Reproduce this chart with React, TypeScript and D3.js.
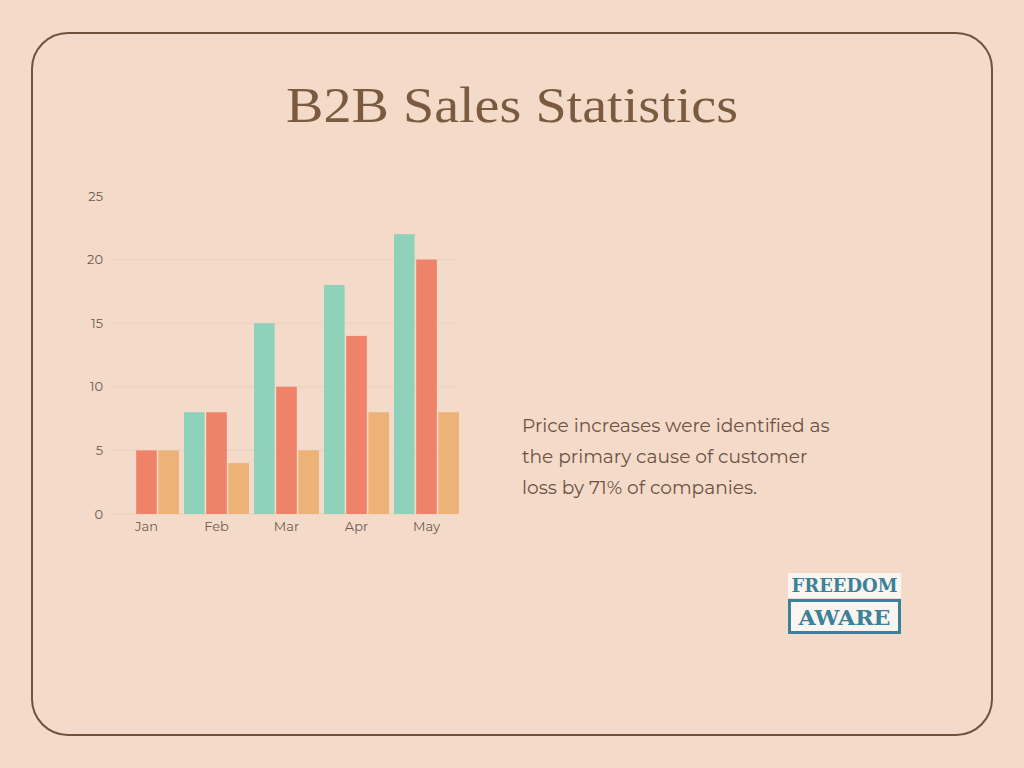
import React from "react";
import * as d3 from "d3";

const months = ["Jan", "Feb", "Mar", "Apr", "May"];
const seriesNames = ["Series 1", "Series 2", "Series 3"];
const series1 = [0, 8, 15, 18, 22];
const series2 = [5, 8, 10, 14, 20];
const series3 = [5, 4, 5, 8, 8];
const yTicks = [0, 5, 10, 15, 20, 25];
const colors = ["#8fd2bb", "#ee8369", "#ecb278"];
const noteLines = [
  "Price increases were identified as",
  "the primary cause of customer",
  "loss by 71% of companies.",
];

export default function App() {
  const W = 1024, H = 768;
  const values = [series1, series2, series3];
  const x0 = d3.scaleBand<string>().domain(months).range([111.5, 461.5]).paddingInner(0.0714).paddingOuter(0.0357);
  const x1 = d3.scaleBand<string>().domain(seriesNames).range([0, x0.bandwidth()]).paddingInner(0.07);
  const y = d3.scaleLinear().domain([0, 25]).range([514, 196]);
  const tickFont = "Montserrat, 'Open Sans', Lato, sans-serif";

  return (
    <svg width={W} height={H} style={{ position: "absolute", left: 0, top: 0, display: "block" }}>
      <rect x={0} y={0} width={W} height={H} fill="#f3dac9" />
      <rect x={32} y={33} width={960} height={702} rx={36} ry={36} fill="none" stroke="#70523d" strokeWidth={2} />
      <text x={512} y={122} textAnchor="middle" fontFamily="'Liberation Serif', serif" fontSize={50} fill="#7a5b40" textLength={452} lengthAdjust="spacingAndGlyphs">
        B2B Sales Statistics
      </text>

      {yTicks.map((t) => (
        <g key={t}>
          {t > 0 && t < 25 && (
            <line x1={110} x2={458} y1={y(t)} y2={y(t)} stroke="#ecd0bd" strokeWidth={1} />
          )}
          <text x={103} y={y(t) + 4.5} textAnchor="end" fontFamily={tickFont} fontSize={13} fill="#6e5a50">
            {t}
          </text>
        </g>
      ))}
      <line x1={110} x2={458} y1={y(0)} y2={y(0)} stroke="#ecd0bd" strokeWidth={1} />

      {months.map((m, i) => (
        <g key={m}>
          {values.map((vals, s) =>
            vals[i] > 0 ? (
              <rect
                key={s}
                x={(x0(m) as number) + (x1(seriesNames[s]) as number)}
                y={y(vals[i])}
                width={x1.bandwidth()}
                height={y(0) - y(vals[i])}
                fill={colors[s]}
              />
            ) : null
          )}
          <text x={(x0(m) as number) + x0.bandwidth() / 2} y={531} textAnchor="middle" fontFamily={tickFont} fontSize={13} fill="#6e5a50">
            {m}
          </text>
        </g>
      ))}

      {noteLines.map((l, i) => (
        <text key={i} x={522} y={432 + i * 31} fontFamily={tickFont} fontSize={18.6} fill="#6e5244">
          {l}
        </text>
      ))}

      <rect x={788} y={573} width={113} height={25} fill="#fbf5f1" />
      <text x={844.5} y={592} textAnchor="middle" fontFamily="'DejaVu Serif', serif" fontWeight="bold" fontSize={18} fill="#3c8198" textLength={106} lengthAdjust="spacingAndGlyphs">
        FREEDOM
      </text>
      <rect x={789.5} y={600.5} width={110} height={32} fill="#fbf5f1" stroke="#3c8198" strokeWidth={3} />
      <text x={844.5} y={625} textAnchor="middle" fontFamily="'DejaVu Serif', serif" fontWeight="bold" fontSize={20} fill="#3c8198" textLength={92} lengthAdjust="spacingAndGlyphs">
        AWARE
      </text>
    </svg>
  );
}
